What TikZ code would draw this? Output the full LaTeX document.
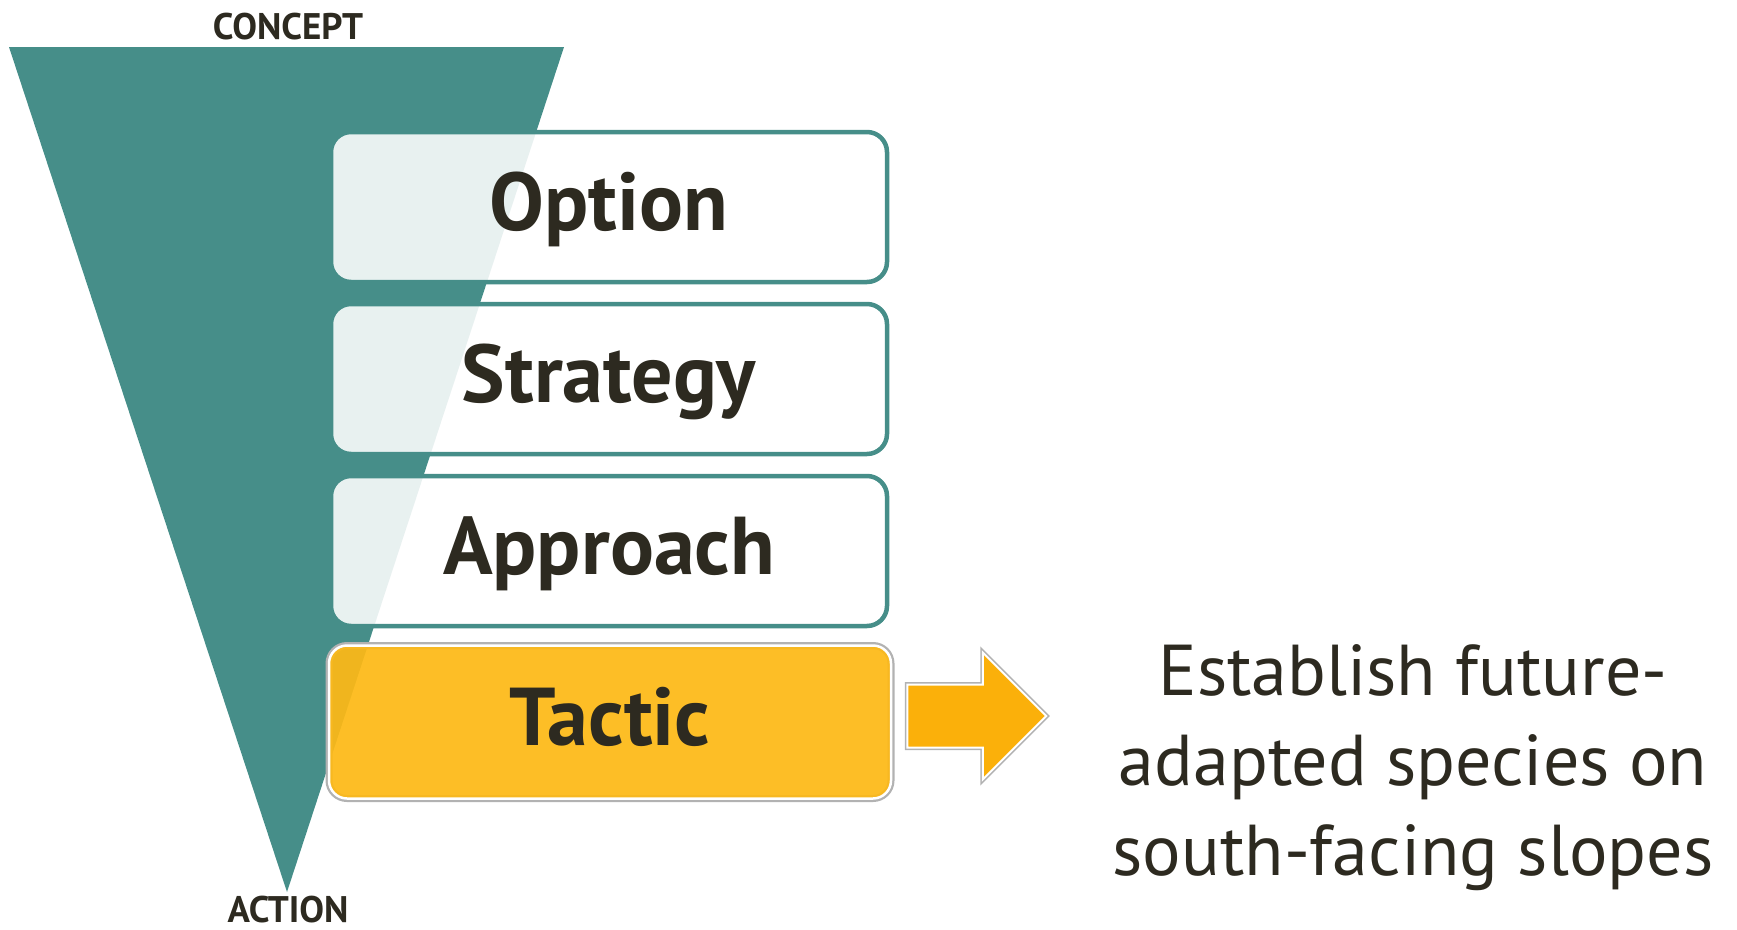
\documentclass[tikz,border=0pt]{standalone}
\usepackage{fontspec}
\setmainfont{PT Sans}
\usepackage{tikz}
\usetikzlibrary{shapes.arrows}

\definecolor{funnel}{RGB}{70,142,137}
\definecolor{inkdark}{RGB}{45,42,32}
\definecolor{tacticfill}{RGB}{253,185,22}
\definecolor{arrowfill}{RGB}{251,176,10}

\begin{document}
\begin{tikzpicture}[
			x=1pt, y=-1pt,
			every node/.style={
					text=inkdark
				},
			levelbox/.style={
					draw=funnel,
					line width=4.5pt,
					fill=white,
					fill opacity=0.88, % lets the funnel shine through
					text opacity=1,
					rounded corners=20pt,
					minimum width=556pt,
					minimum height=150pt,
					text height=60pt, % baseline a bit below the middle
					text depth=13pt,
					font=\bfseries\fontsize{82}{86}\selectfont
				},
			tacticbox/.style={
					fill=tacticfill,
					fill opacity=0.93,
					text opacity=1,
					draw=white,
					line width=2.5pt,
					preaction={draw=black!30, line width=7pt},
					rounded corners=18pt,
					minimum width=562pt,
					minimum height=153pt,
					text height=60pt,
					text depth=13pt,
					font=\bfseries\fontsize{82}{86}\selectfont
				},
			endlabel/.style={
					inner sep=0pt,
					text depth=0pt,
					font=\bfseries\fontsize{37}{40}\selectfont
				}
		]
		\useasboundingbox (0,0) rectangle (1737,929);

		% the funnel from concept down to action
		\fill[funnel] (9,47) coordinate (fl) -- (564,47) coordinate (fr) -- (287,892) coordinate (tip) -- cycle;

		\node[endlabel] (concept) at (288,26) {CONCEPT};
		\node[endlabel] (action) at (288,909) {ACTION};

		\node[levelbox] (option) at (609,207) {Option};
		\node[levelbox] (strategy) at (609,379) {Strategy};
		\node[levelbox] (approach) at (609,551) {Approach};
		\node[tacticbox] (tactic) at (610,722) {Tactic};

		\node[
			single arrow,
			fill=arrowfill,
			draw=white,
			line width=2pt,
			preaction={draw=black!30, line width=5pt},
			minimum height=139pt,
			minimum width=0pt,
			single arrow head extend=32pt,
			inner xsep=0pt,
			inner ysep=30.5pt
		] (go) at (961,716) {};

		\node[
			align=center,
			font=\fontsize{72}{90}\selectfont
		] (goal) at (1413,768) {Establish future-\\adapted species on\\south-facing slopes};

	\end{tikzpicture}
\end{document}
